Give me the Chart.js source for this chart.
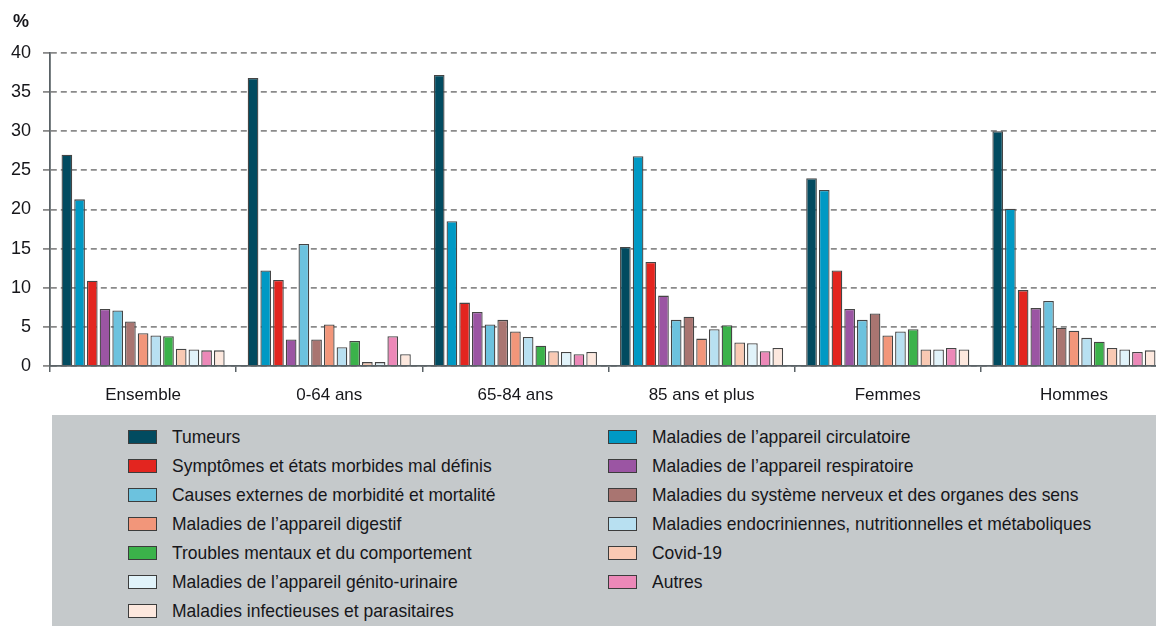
<!DOCTYPE html>
<html lang="fr">
<head>
<meta charset="utf-8">
<title>Causes de décès</title>
<script src="https://cdn.jsdelivr.net/npm/chart.js@4.4.1/dist/chart.umd.min.js"></script>
<style>
    html, body { margin: 0; padding: 0; background: #fff; }
    body { font-family: 'Liberation Sans', Arial, sans-serif; color: #16161a; }
    #wrap { position: relative; width: 1156px; height: 626px; overflow: hidden; }
    #chartBox { position: absolute; left: 0; top: 0; width: 1170px; height: 415px; }
    #unit { position: absolute; left: 13px; top: 11px; font-size: 18px; font-weight: bold; }
    #legend { position: absolute; left: 52px; top: 415px; width: 1104px; height: 211px; background: #c5c9cb; }
    .item { position: absolute; display: flex; align-items: center; height: 20px; font-size: 19px; white-space: nowrap; }
    .swatch { flex: none; width: 27px; height: 12px; border: 1.3px solid #3c3c3c; margin-right: 15px; }
    .txt { display: inline-block; transform: scaleX(0.92); transform-origin: left center; }
</style>
</head>
<body>
<div id="wrap">
    <div id="chartBox"><canvas id="causesChart" width="1170" height="415"></canvas></div>
    <div id="unit">%</div>
    <div id="legend"></div>
</div>
<script>
// ============================================
// DONNÉES
// ============================================

const groupes = ['Ensemble', '0-64 ans', '65-84 ans', '85 ans et plus', 'Femmes', 'Hommes'];

const causes = [
    'Tumeurs',
    'Maladies de l\u2019appareil circulatoire',
    'Symptômes et états morbides mal définis',
    'Maladies de l\u2019appareil respiratoire',
    'Causes externes de morbidité et mortalité',
    'Maladies du système nerveux et des organes des sens',
    'Maladies de l\u2019appareil digestif',
    'Maladies endocriniennes, nutritionnelles et métaboliques',
    'Troubles mentaux et du comportement',
    'Covid-19',
    'Maladies de l\u2019appareil génito-urinaire',
    'Autres',
    'Maladies infectieuses et parasitaires'
];

// une liste par cause, dans l'ordre des groupes
const tumeurs       = [27.0, 36.8, 37.2, 15.2, 24.0, 30.0];
const circulatoire  = [21.3, 12.2, 18.5, 26.8, 22.5, 20.1];
const symptomes     = [10.9, 11.0,  8.1, 13.3, 12.2,  9.7];
const respiratoire  = [ 7.3,  3.4,  6.9,  9.0,  7.3,  7.4];
const externes      = [ 7.1, 15.6,  5.3,  5.9,  5.9,  8.3];
const nerveux       = [ 5.7,  3.4,  5.9,  6.3,  6.7,  4.9];
const digestif      = [ 4.2,  5.3,  4.4,  3.5,  3.9,  4.5];
const endocrinien   = [ 3.9,  2.4,  3.7,  4.7,  4.4,  3.6];
const mentaux       = [ 3.8,  3.2,  2.6,  5.2,  4.7,  3.1];
const covid         = [ 2.2,  0.5,  1.9,  3.0,  2.1,  2.3];
const genito        = [ 2.1,  0.5,  1.8,  2.9,  2.1,  2.1];
const autres        = [ 2.0,  3.8,  1.5,  1.9,  2.3,  1.8];
const infectieuses  = [ 2.0,  1.5,  1.8,  2.3,  2.1,  2.0];

const valeurs = [tumeurs, circulatoire, symptomes, respiratoire, externes, nerveux,
    digestif, endocrinien, mentaux, covid, genito, autres, infectieuses];

const couleurs = ['#024b60', '#0099c4', '#e3251f', '#9b55a3', '#6cc2de', '#a97571',
    '#f2967a', '#b8e0f1', '#3bb24a', '#f9c9b3', '#e1f3fa', '#ec88b8', '#fde8de'];

const yTicks = [0, 5, 10, 15, 20, 25, 30, 35, 40];

// ============================================
// GRAPHIQUE
// ============================================

Chart.defaults.font.family = "'Liberation Sans', Arial, sans-serif";
Chart.defaults.color = '#16161a';

const datasets = causes.map((cause, i) => ({
    label: cause,
    data: valeurs[i],
    backgroundColor: couleurs[i],
    borderColor: '#454545',
    borderWidth: 1.3,
    categoryPercentage: 0.887,
    barPercentage: 0.84
}));

const ctx = document.getElementById('causesChart').getContext('2d');
const chart = new Chart(ctx, {
    type: 'bar',
    data: { labels: groupes, datasets: datasets },
    options: {
        responsive: false,
        animation: false,
        layout: { padding: { top: 53, left: 0, right: 3, bottom: 0 } },
        plugins: {
            legend: { display: false },
            tooltip: { enabled: false }
        },
        scales: {
            x: {
                offset: true,
                grid: { display: true, offset: true, drawOnChartArea: false, drawTicks: true, tickLength: 6, color: '#5a6266', lineWidth: 1.5 },
                border: { display: true, color: '#5a6266', width: 1.8 },
                ticks: { font: { size: 17 }, padding: 13, color: '#16161a' },
                afterFit: (scale) => { scale.height = 49; }
            },
            y: {
                min: 0,
                max: 40,
                afterBuildTicks: (scale) => { scale.ticks = yTicks.map(v => ({ value: v })); },
                grid: { color: '#8a8a8a', lineWidth: 1.8, tickLength: 7 },
                border: { display: true, color: '#5a6266', width: 1.8, dash: [6, 4] },
                ticks: { font: { size: 18 }, padding: 12, color: '#16161a' },
                afterFit: (scale) => { scale.width = 50; }
            }
        }
    }
});

// ============================================
// LÉGENDE (deux colonnes)
// ============================================

const legend = document.getElementById('legend');
causes.forEach((cause, i) => {
    const col = i % 2;
    const row = Math.floor(i / 2);
    const item = document.createElement('div');
    item.className = 'item';
    item.style.left = (col === 0 ? 76 : 556) + 'px';
    item.style.top = (12 + row * 29) + 'px';
    item.innerHTML = `<span class="swatch" style="background:${couleurs[i]}"></span><span class="txt">${cause}</span>`;
    legend.appendChild(item);
});
</script>
</body>
</html>
